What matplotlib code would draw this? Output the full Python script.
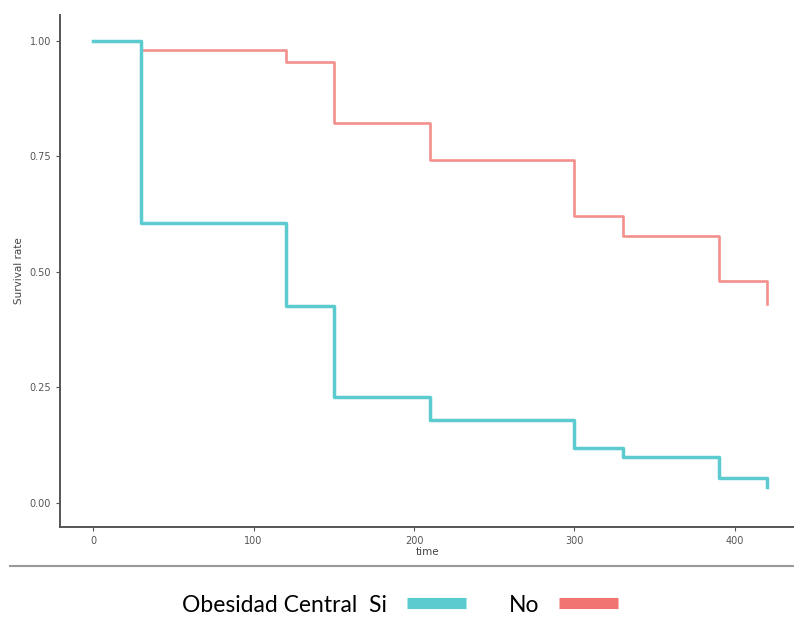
import matplotlib
matplotlib.use("Agg")
import matplotlib.pyplot as plt
from matplotlib.lines import Line2D

# Kaplan-Meier style survival steps
time_si = [0, 30, 120, 150, 210, 300, 330, 390, 420]
surv_si = [1.0, 0.605, 0.426, 0.229, 0.18, 0.12, 0.10, 0.054, 0.035]

time_no = [0, 30, 120, 150, 210, 300, 330, 390, 420]
surv_no = [1.0, 0.98, 0.955, 0.823, 0.742, 0.621, 0.578, 0.48, 0.43]

x_ticks = [0, 100, 200, 300, 400]
y_ticks = [0.0, 0.25, 0.5, 0.75, 1.0]
y_labels = ["0.00", "0.25", "0.50", "0.75", "1.00"]

col_si = "#5CCBD0"
col_no = "#F2908C"

fig = plt.figure(figsize=(7.94, 6.19), dpi=100)
ax = fig.add_axes([0.0756, 0.1486, 0.9244, 0.827])

ax.step(time_no, surv_no, where="post", color=col_no, lw=1.9)
ax.step(time_si, surv_si, where="post", color=col_si, lw=2.5)

ax.set_xlim(-20.6, 436.8)
ax.set_ylim(-0.052, 1.056)
ax.set_xticks(x_ticks)
ax.set_yticks(y_ticks)
ax.set_yticklabels(y_labels)
ax.tick_params(labelsize=7, colors="#555555", length=3, width=0.8)

for side in ["top", "right"]:
    ax.spines[side].set_visible(False)
for side in ["left", "bottom"]:
    ax.spines[side].set_color("#555555")
    ax.spines[side].set_linewidth(1.4)

ax.set_xlabel("time", fontsize=7.5, color="#444444", labelpad=1)
ax.set_ylabel("Survival rate", fontsize=7.5, color="#444444", labelpad=4)

# gray separator between chart and legend
fig.add_artist(Line2D([10 / 794, 1.0], [1 - 566 / 619, 1 - 566 / 619],
                      color="#9a9a9a", lw=1.5))

handles = [Line2D([], [], color="#5BCBD0", lw=8, solid_capstyle="butt"),
           Line2D([], [], color="#F07470", lw=8, solid_capstyle="butt")]
fig.legend(handles, ["Obesidad Central  Si", "No"], loc="center",
           bbox_to_anchor=(0.504, 1 - 605 / 619), ncol=2, frameon=False,
           markerfirst=False, handlelength=2.6, handletextpad=0.85,
           columnspacing=1.85,
           prop={"family": ["Lato", "DejaVu Sans"], "size": 16.5})

fig.savefig("out.png", dpi=100)
